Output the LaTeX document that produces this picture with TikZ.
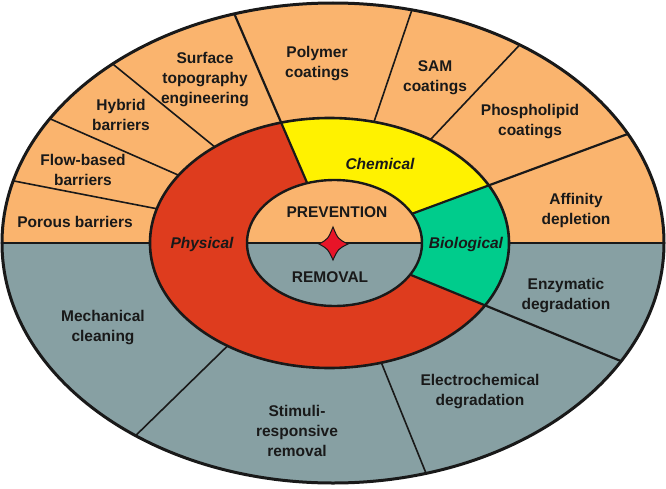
\documentclass[tikz,border=0pt]{standalone}
\usepackage{fontspec}
\setmainfont{Liberation Sans}
\definecolor{prevorange}{RGB}{250,180,110}
\definecolor{remgrey}{RGB}{135,160,163}
\definecolor{physred}{RGB}{222,60,30}
\definecolor{chemyellow}{RGB}{255,242,0}
\definecolor{biogreen}{RGB}{0,204,140}
\definecolor{starred}{RGB}{232,20,40}
\definecolor{ink}{RGB}{25,25,25}
\tikzstyle{lbl}=[align=center,font=\bfseries\fontsize{15.5}{20}\selectfont,text=ink,inner sep=0pt]
\tikzstyle{ringlbl}=[font=\bfseries\itshape\fontsize{15.5}{20}\selectfont,text=ink,inner sep=0pt]
\tikzstyle{divider}=[draw=ink,line width=1.6pt]
\tikzstyle{border}=[draw=ink,line width=3pt]

\begin{document}
\begin{tikzpicture}[x=1pt,y=1pt]
  \useasboundingbox (-333,-245) rectangle (333,243);
  \begin{scope}
    \clip (0,0) ellipse [x radius=331,y radius=240];
    \fill[prevorange] (-340,0) rectangle (340,250);
    \fill[remgrey] (-340,0) rectangle (340,-250);
    \foreach \a in {169,156.3,140.9,71.3,46.7,-68,-135.7}
      \draw[divider] (0,0) -- (\a:400);
    \draw[divider] (-340,0) -- (340,0);
  \end{scope}
  \begin{scope}
    \clip (-3.5,0) ellipse [x radius=179.5,y radius=125];
    \fill[physred] (-200,-130) rectangle (200,130);
    \fill[chemyellow] (0,0) -- (20.3:400) -- (70:400) -- (113.3:400) -- cycle;
    \fill[biogreen] (0,0) -- (-22.3:400) -- (20.3:400) -- cycle;
  \end{scope}
  \begin{scope}
    \clip (0,0) ellipse [x radius=331,y radius=240];
    \foreach \a in {113.3,20.3,-22.3}
      \draw[divider,line width=2.2pt] (0,0) -- (\a:400);
  \end{scope}
  \draw[border,line width=2.6pt] (-3.5,0) ellipse [x radius=179.5,y radius=125];
  \fill[prevorange] (89,0) arc [start angle=0,end angle=180,x radius=87.5,y radius=63] -- cycle;
  \fill[remgrey] (89,0) arc [start angle=0,end angle=-180,x radius=87.5,y radius=63] -- cycle;
  \draw[divider] (-86,0) -- (89,0);
  \draw[border,line width=2.4pt] (1.5,0) ellipse [x radius=87.5,y radius=63];
  \draw[fill=starred,draw=ink,line width=1pt] (15,-1) .. controls (5,4) .. (0,16)
    .. controls (-5,4) .. (-14,-1) .. controls (-5,-6) .. (0,-17)
    .. controls (5,-6) .. cycle;
  \draw[border] (0,0) ellipse [x radius=331,y radius=240];

  \node[lbl] (porous)   at (-258,21)  {Porous barriers};
  \node[lbl] (flow)     at (-250,73)  {Flow-based\\barriers};
  \node[lbl] (hybrid)   at (-212,128) {Hybrid\\barriers};
  \node[lbl] (surface)  at (-128,163) {Surface\\topography\\engineering};
  \node[lbl] (polymer)  at (-16,179)  {Polymer\\coatings};
  \node[lbl] (sam)      at (102,165)  {SAM\\coatings};
  \node[lbl] (phospho)  at (197,121)  {Phospholipid\\coatings};
  \node[lbl] (affinity) at (243,33)   {Affinity\\depletion};
  \node[lbl] (enzyme)   at (233,-53)  {Enzymatic\\degradation};
  \node[lbl] (electro)  at (147,-149) {Electrochemical\\degradation};
  \node[lbl] (stimuli)  at (-36,-188) {Stimuli-\\responsive\\removal};
  \node[lbl] (mech)     at (-230,-85) {Mechanical\\cleaning};
  \node[ringlbl] (chem)   at (47,79)   {Chemical};
  \node[ringlbl] (phys)   at (-131,-1) {Physical};
  \node[ringlbl] (bio)    at (133,-1)  {Biological};
  \node[lbl] (prevent)  at (4,31)     {PREVENTION};
  \node[lbl] (removal)  at (-3,-34)   {REMOVAL};
\end{tikzpicture}
\end{document}
